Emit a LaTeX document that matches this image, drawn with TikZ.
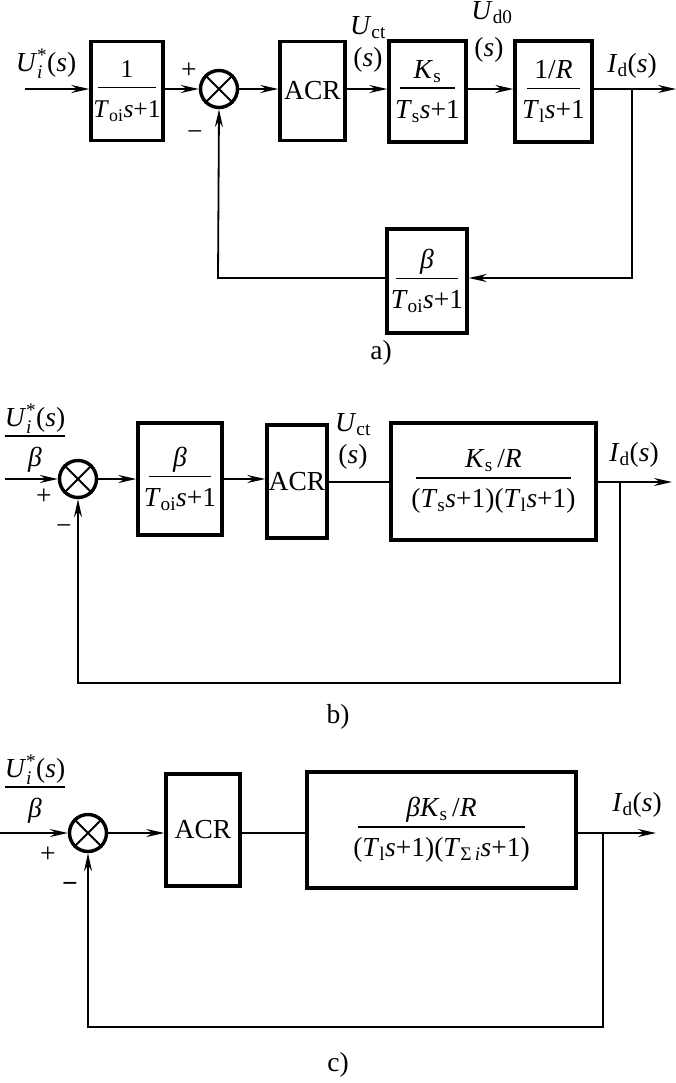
\documentclass[tikz,border=0pt]{standalone}
\usepackage{fix-cm}
\usepackage{amsmath}
\usepackage{fontspec}
\setmainfont{Liberation Serif}
\usetikzlibrary{arrows.meta}
\newcommand{\vi}[1]{\textit{#1}}
\newcommand{\sbx}[1]{$_{\text{#1}}$}
\newlength{\frw}
\newsavebox{\frnum}
\newsavebox{\frden}
\newcommand{\fr}[3][10pt]{%
  \sbox{\frnum}{#2}\sbox{\frden}{#3}%
  \setlength{\frw}{\wd\frnum}%
  \ifdim\wd\frden>\frw \setlength{\frw}{\wd\frden}\fi
  \addtolength{\frw}{-#1}%
  {\renewcommand{\arraystretch}{0}%
  \begin{tabular}{@{}c@{}}\rule[-9pt]{0pt}{0pt}\usebox{\frnum}\\
  \rule{\frw}{1.8pt}\\
  \rule{0pt}{29pt}\usebox{\frden}\end{tabular}}}
\tikzset{
  every node/.style={font=\fontsize{27.5}{31}\selectfont, inner sep=0pt},
  blk/.style={draw, line width=3.4pt, inner sep=0pt},
  sumc/.style={draw, circle, line width=3.4pt, minimum size=37pt},
  ln/.style={line width=1.8pt},
  arr/.style={line width=1.8pt, -{Stealth[length=18pt,width=8pt,inset=6pt]}},
  lbl/.style={inner sep=0pt}
}
\newcommand{\crossit}[1]{\draw[line width=2pt] (#1.north west)--(#1.south east) (#1.north east)--(#1.south west);}
\begin{document}
\begin{tikzpicture}[x=1pt,y=-1pt]
\useasboundingbox (0,0) rectangle (676,1083);
% ---------------- a) ----------------
\coordinate (ain) at (25,89);
\node[blk, minimum width=72pt, minimum height=99pt, font=\fontsize{25.5}{30}\selectfont] (a1) at (127,91) {\fr{1}{\vi{T}\sbx{oi}\vi{s}+1}};
\node[sumc] (as) at (219,89) {};
\crossit{as}
\node[blk, minimum width=65pt, minimum height=99pt] (aacr) at (312.5,91) {ACR};
\node[blk, minimum width=77pt, minimum height=101pt] (aks) at (427.5,91.5) {\fr{\vi{K}\sbx{s}}{\vi{T}\sbx{s}\vi{s}+1}};
\node[blk, minimum width=77pt, minimum height=101pt] (ar) at (553.5,91.5) {\fr{1/\vi{R}}{\vi{T}\sbx{l}\vi{s}+1}};
\node[blk, minimum width=80pt, minimum height=104pt] (afb) at (427,281) {\fr{\vi{β}}{\vi{T}\sbx{oi}\vi{s}+1}};
\coordinate (aout) at (676,89);
\coordinate (abr) at (632,89);
\coordinate (abr2) at (632,278);
\coordinate (afl) at (218,278);
\draw[arr] (ain) -- (a1.west |- ain);
\draw[arr] (a1.east |- as) -- (as.west);
\draw[arr] (as.east) -- (aacr.west |- as);
\draw[arr] (aacr.east |- as) -- (aks.west |- as);
\draw[arr] (aks.east |- as) -- (ar.west |- as);
\draw[arr] (ar.east |- as) -- (aout);
\draw[arr] (abr) -- (abr2) -- (afb.east |- abr2);
\draw[arr] (afb.west |- afl) -- (afl) -- (as.south);
\node[lbl] at (46,64) {\vi{U}$^{\text{*}}_{\text{\vi{i}}}$(\vi{s})};
\node[lbl] at (189,71) {+};
\node[lbl] at (195,136) {−};
\node[lbl] at (368,28) {\vi{U}\sbx{ct}};
\node[lbl] at (368,60) {(\vi{s})};
\node[lbl] at (492,13) {\vi{U}\sbx{d0}};
\node[lbl] at (489,50) {(\vi{s})};
\node[lbl] at (632,66) {\vi{I}\sbx{d}(\vi{s})};
\node[lbl] at (381,353) {a)};
% ---------------- b) ----------------
\coordinate (bin) at (5,479);
\node[sumc] (bs) at (78,479) {};
\crossit{bs}
\node[blk, minimum width=84pt, minimum height=112pt] (bb) at (180,479) {\fr{\vi{β}}{\vi{T}\sbx{oi}\vi{s}+1}};
\node[blk, minimum width=60pt, minimum height=113pt] (bacr) at (297,481.5) {ACR};
\node[blk, minimum width=205pt, minimum height=117pt] (bbig) at (493.5,481.5) {\fr{\vi{K}\sbx{s}\,/\vi{R}}{(\vi{T}\sbx{s}\vi{s}+1)(\vi{T}\sbx{l}\vi{s}+1)}};
\coordinate (bout) at (672,482);
\coordinate (bbr) at (620,482);
\coordinate (bbr2) at (620,683);
\coordinate (bfl) at (78,683);
\draw[arr] (bin) -- (bs.west);
\draw[arr] (bs.east) -- (bb.west |- bs);
\draw[arr] (bb.east |- bs) -- (bacr.west |- bs);
\draw[ln] (bacr.east |- bout) -- (bbig.west |- bout);
\draw[arr] (bbig.east |- bout) -- (bout);
\draw[arr] (bbr) -- (bbr2) -- (bfl) -- (bs.south);
\node[lbl] at (35,438) {\fr[0pt]{\vi{U}$^{\text{*}}_{\text{\vi{i}}}$(\vi{s})}{\vi{β}}};
\node[lbl] at (44,497) {+};
\node[lbl] at (64,530) {−};
\node[lbl] at (353,425) {\vi{U}\sbx{ct}};
\node[lbl] at (353,457) {(\vi{s})};
\node[lbl] at (634,455) {\vi{I}\sbx{d}(\vi{s})};
\node[lbl] at (338,717) {b)};
% ---------------- c) ----------------
\coordinate (cin) at (0,833);
\node[sumc] (cs) at (88,833) {};
\crossit{cs}
\node[blk, minimum width=74pt, minimum height=112pt] (cacr) at (203,830) {ACR};
\node[blk, minimum width=269pt, minimum height=116pt] (cbig) at (441.5,830) {\fr{\vi{β}\vi{K}\sbx{s}\,/\vi{R}}{(\vi{T}\sbx{l}\vi{s}+1)(\vi{T}\sbx{Σ\,\vi{i}}\vi{s}+1)}};
\coordinate (cout) at (656,833);
\coordinate (cbr) at (603,833);
\coordinate (cbr2) at (603,1027);
\coordinate (cfl) at (88,1027);
\draw[arr] (cin) -- (cs.west);
\draw[arr] (cs.east) -- (cacr.west |- cs);
\draw[ln] (cacr.east |- cs) -- (cbig.west |- cs);
\draw[arr] (cbig.east |- cs) -- (cout);
\draw[arr] (cbr) -- (cbr2) -- (cfl) -- (cs.south);
\node[lbl] at (35,789) {\fr[0pt]{\vi{U}$^{\text{*}}_{\text{\vi{i}}}$(\vi{s})}{\vi{β}}};
\node[lbl] at (48,855) {+};
\node[lbl, font=\fontsize{27.5}{31}\selectfont\bfseries] at (70,887) {−};
\node[lbl] at (637,805) {\vi{I}\sbx{d}(\vi{s})};
\node[lbl] at (338,1065) {c)};
\end{tikzpicture}
\end{document}
